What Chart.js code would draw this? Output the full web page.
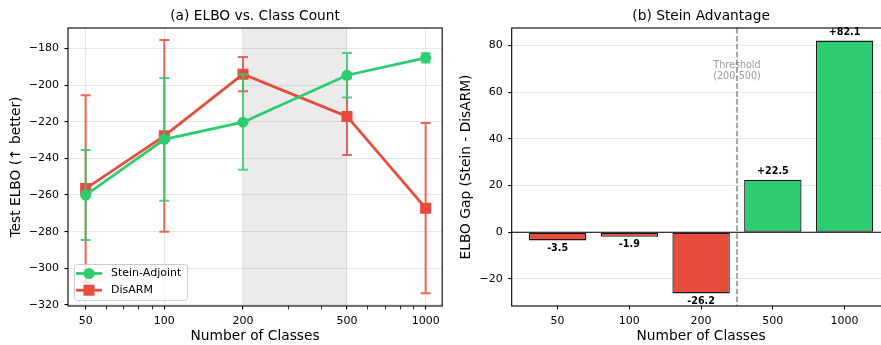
<!DOCTYPE html>
<html>
<head>
<meta charset="utf-8">
<script src="https://cdn.jsdelivr.net/npm/chart.js@4.4.0/dist/chart.umd.min.js"></script>
<style>
  html, body { margin: 0; padding: 0; background: #fff; overflow: hidden; }
  body { width: 881px; height: 345px; position: relative; }
  #wrapA { position: absolute; left: 0; top: 0; width: 450px; height: 345px; }
  #wrapB { position: absolute; left: 450px; top: 0; width: 450px; height: 345px; }
</style>
</head>
<body>
<div id="wrapA"><canvas id="elboChart" width="450" height="345"></canvas></div>
<div id="wrapB"><canvas id="gapChart" width="450" height="345"></canvas></div>
<script>
// values
const classCounts = [50, 100, 200, 500, 1000];
const classLabels = ['50', '100', '200', '500', '1000'];
const steinMean = [-260.0, -229.6, -220.2, -194.6, -185.1];
const steinErr = [24.6, 33.5, 26.0, 12.2, 2.5];
const disarmMean = [-256.5, -227.7, -194.0, -217.1, -267.2];
const disarmErr = [51.0, 52.3, 9.3, 21.0, 46.5];
const elboGap = [-3.5, -1.9, -26.2, 22.5, 82.1];

const elboTicks = [-320, -300, -280, -260, -240, -220, -200, -180];
const gapTicks = [-20, 0, 20, 40, 60, 80];
const minorLogTicks = [60, 70, 80, 90, 300, 400, 600, 700, 800, 900];
const shadeRange = [200, 500];
const thresholdPos = 2.5;
const thresholdText = ['Threshold', '(200-500)'];

const GREEN = '#2ecc71';
const RED = '#e74c3c';
const GRID = 'rgba(176,176,176,0.3)';
const FONT = "'DejaVu Sans', sans-serif";

Chart.defaults.font.family = FONT;
Chart.defaults.color = '#000';

function minus(v) {
  return String(v).replace('-', '\u2212');
}

// keep the plot box where matplotlib put it
function fixX(h) {
  return s => { s.height = h; s.paddingLeft = 0; s.paddingRight = 0; };
}
function fixY(w) {
  return s => { s.width = w; s.paddingTop = 0; s.paddingBottom = 0; };
}

const frame = {
  id: 'frame',
  afterDraw(chart) {
    const { ctx, chartArea: a } = chart;
    ctx.save();
    ctx.strokeStyle = '#000';
    ctx.lineWidth = 1.1;
    ctx.strokeRect(a.left, a.top, a.right - a.left, a.bottom - a.top);
    ctx.restore();
  }
};

const shade = {
  id: 'shade',
  beforeDatasetsDraw(chart) {
    const { ctx, chartArea: a, scales: { x } } = chart;
    const x0 = x.getPixelForValue(shadeRange[0]);
    const x1 = x.getPixelForValue(shadeRange[1]);
    ctx.save();
    ctx.fillStyle = 'rgba(128,128,128,0.16)';
    ctx.fillRect(x0, a.top, x1 - x0, a.bottom - a.top);
    ctx.restore();
  }
};

const errorBars = {
  id: 'errorBars',
  beforeDatasetDraw(chart, args) {
    const ds = chart.data.datasets[args.index];
    if (!ds.errors) return;
    const { ctx, scales: { x, y } } = chart;
    ctx.save();
    ctx.strokeStyle = ds.errorColor;
    ctx.lineWidth = 2;
    ds.data.forEach((p, i) => {
      const px = x.getPixelForValue(p.x);
      const yt = y.getPixelForValue(p.y + ds.errors[i]);
      const yb = y.getPixelForValue(p.y - ds.errors[i]);
      ctx.beginPath();
      ctx.moveTo(px, yt); ctx.lineTo(px, yb);
      ctx.moveTo(px - 5, yt); ctx.lineTo(px + 5, yt);
      ctx.moveTo(px - 5, yb); ctx.lineTo(px + 5, yb);
      ctx.stroke();
    });
    ctx.restore();
  }
};

const legendBox = {
  id: 'legendBox',
  afterDraw(chart) {
    const { ctx, chartArea: a } = chart;
    const bx = a.left + 6, by = a.bottom - 42, bw = 113, bh = 36;
    ctx.save();
    ctx.fillStyle = 'rgba(255,255,255,0.8)';
    ctx.strokeStyle = '#cccccc';
    ctx.lineWidth = 1;
    ctx.beginPath();
    ctx.roundRect(bx + 0.5, by + 0.5, bw, bh, 3);
    ctx.fill();
    ctx.stroke();
    chart.data.datasets.forEach((ds, i) => {
      const yy = by + 9.5 + i * 16.7;
      ctx.strokeStyle = ds.borderColor;
      ctx.lineWidth = 2.75;
      ctx.beginPath();
      ctx.moveTo(bx + 2, yy); ctx.lineTo(bx + 28, yy);
      ctx.stroke();
      ctx.fillStyle = ds.borderColor;
      if (ds.pointStyle === 'rect') {
        ctx.fillRect(bx + 15 - 5.5, yy - 5.5, 11, 11);
      } else {
        ctx.beginPath();
        ctx.arc(bx + 15, yy, 5.5, 0, Math.PI * 2);
        ctx.fill();
      }
      ctx.fillStyle = '#000';
      ctx.font = '11px ' + FONT;
      ctx.textBaseline = 'middle';
      ctx.fillText(ds.label, bx + 37, yy);
    });
    ctx.restore();
  }
};

new Chart(document.getElementById('elboChart'), {
  type: 'line',
  data: {
    datasets: [
      {
        label: 'Stein-Adjoint',
        data: classCounts.map((c, i) => ({ x: c, y: steinMean[i] })),
        errors: steinErr,
        errorColor: 'rgba(46,204,113,0.85)',
        borderColor: GREEN,
        backgroundColor: GREEN,
        borderWidth: 2.75,
        pointStyle: 'circle',
        pointRadius: 5.5,
        pointBorderWidth: 0,
        tension: 0
      },
      {
        label: 'DisARM',
        data: classCounts.map((c, i) => ({ x: c, y: disarmMean[i] })),
        errors: disarmErr,
        errorColor: 'rgba(231,76,60,0.85)',
        borderColor: RED,
        backgroundColor: RED,
        borderWidth: 2.75,
        pointStyle: 'rect',
        pointRadius: 7.8,
        pointBorderWidth: 0,
        tension: 0
      }
    ]
  },
  options: {
    responsive: false,
    animation: false,
    layout: { padding: { left: 0, right: 3, top: 0, bottom: 0 } },
    plugins: {
      legend: { display: false },
      tooltip: { enabled: false },
      title: {
        display: true,
        fullSize: false,
        text: '(a) ELBO vs. Class Count',
        font: { size: 13.75, weight: 'normal' },
        color: '#000',
        padding: { top: 7.75, bottom: 3.75 }
      }
    },
    scales: {
      x: {
        type: 'logarithmic',
        min: 42.8,
        max: 1157,
        afterBuildTicks: s => {
          s.ticks = [...classCounts, ...minorLogTicks].sort((a, b) => a - b).map(v => ({ value: v }));
        },
        afterFit: fixX(39),
        ticks: {
          autoSkip: false,
          maxRotation: 0,
          padding: 5,
          font: { size: 11 },
          callback: v => classCounts.includes(v) ? String(v) : ''
        },
        grid: {
          color: c => (c.tick && classCounts.includes(c.tick.value)) ? GRID : 'rgba(0,0,0,0)',
          lineWidth: 1.1,
          tickColor: '#000',
          tickLength: 3.5,
          tickWidth: c => (c.tick && classCounts.includes(c.tick.value)) ? 1.1 : 0.8
        },
        border: { display: false },
        title: {
          display: true,
          text: 'Number of Classes',
          font: { size: 13.75 },
          padding: { top: 0, bottom: 0 }
        }
      },
      y: {
        min: -320.6,
        max: -168.8,
        afterBuildTicks: s => { s.ticks = elboTicks.map(v => ({ value: v })); },
        afterFit: fixY(68),
        ticks: { padding: 5.5, font: { size: 11 }, callback: v => minus(v) },
        grid: { color: GRID, lineWidth: 1.1, tickColor: '#000', tickLength: 3.5 },
        border: { display: false },
        title: {
          display: true,
          text: 'Test ELBO (\u2191 better)',
          font: { size: 13.75 },
          padding: { top: 7.75, bottom: 0 }
        }
      }
    }
  },
  plugins: [shade, errorBars, frame, legendBox]
});

const gapExtras = {
  id: 'gapExtras',
  afterDatasetsDraw(chart) {
    const { ctx, chartArea: a, scales: { x, y } } = chart;
    const y0 = y.getPixelForValue(0);
    const tx = x.getPixelForValue(thresholdPos);
    ctx.save();
    ctx.fillStyle = 'rgba(128,128,128,0.8)';
    ctx.font = '9.6px ' + FONT;
    ctx.textAlign = 'center';
    ctx.textBaseline = 'middle';
    const ty = y.getPixelForValue(71.5);
    thresholdText.forEach((t, i) => ctx.fillText(t, tx, ty + i * 10.9));
    ctx.strokeStyle = '#000';
    ctx.lineWidth = 1.1;
    ctx.beginPath();
    ctx.moveTo(a.left, y0); ctx.lineTo(a.right, y0);
    ctx.stroke();
    ctx.strokeStyle = 'rgba(128,128,128,0.7)';
    ctx.lineWidth = 2;
    ctx.setLineDash([5.5, 2.4]);
    ctx.beginPath();
    ctx.moveTo(tx, a.top); ctx.lineTo(tx, a.bottom);
    ctx.stroke();
    ctx.restore();
  }
};

const barLabels = {
  id: 'barLabels',
  afterDraw(chart) {
    const { ctx, scales: { x, y } } = chart;
    ctx.save();
    ctx.font = 'bold 9.6px ' + FONT;
    ctx.fillStyle = '#000';
    ctx.textAlign = 'center';
    ctx.textBaseline = 'middle';
    elboGap.forEach((v, i) => {
      const px = x.getPixelForValue(i);
      const py = y.getPixelForValue(v);
      const txt = (v > 0 ? '+' : '') + v.toFixed(1);
      ctx.fillText(txt, px, v >= 0 ? py - 8.5 : py + 8);
    });
    ctx.restore();
  }
};

new Chart(document.getElementById('gapChart'), {
  type: 'bar',
  data: {
    datasets: [{
      label: 'ELBO Gap',
      data: elboGap.map((v, i) => ({ x: i, y: v })),
      backgroundColor: elboGap.map(v => v < 0 ? RED : GREEN),
      borderColor: '#1a1a1a',
      borderWidth: 1.3,
      borderSkipped: false,
      categoryPercentage: 0.8,
      barPercentage: 1
    }]
  },
  options: {
    responsive: false,
    animation: false,
    layout: { padding: { left: 0, right: 9.5, top: 0, bottom: 0 } },
    plugins: {
      legend: { display: false },
      tooltip: { enabled: false },
      title: {
        display: true,
        fullSize: false,
        text: '(b) Stein Advantage',
        font: { size: 13.75, weight: 'normal' },
        color: '#000',
        padding: { top: 7.75, bottom: 3.75 }
      }
    },
    scales: {
      x: {
        type: 'linear',
        min: -0.64,
        max: 4.64,
        offset: false,
        afterBuildTicks: s => { s.ticks = classLabels.map((_, i) => ({ value: i })); },
        afterFit: fixX(39),
        ticks: {
          autoSkip: false,
          maxRotation: 0,
          padding: 5,
          font: { size: 11 },
          callback: v => classLabels[v]
        },
        grid: { drawOnChartArea: false, offset: false, tickColor: '#000', tickLength: 3.5, tickWidth: 1.1 },
        border: { display: false },
        title: {
          display: true,
          text: 'Number of Classes',
          font: { size: 13.75 },
          padding: { top: 0, bottom: 0 }
        }
      },
      y: {
        min: -31.6,
        max: 87.5,
        afterBuildTicks: s => { s.ticks = gapTicks.map(v => ({ value: v })); },
        afterFit: fixY(61.7),
        ticks: { padding: 5.5, font: { size: 11 }, callback: v => minus(v) },
        grid: { color: GRID, lineWidth: 1.1, tickColor: '#000', tickLength: 3.5 },
        border: { display: false },
        title: {
          display: true,
          text: 'ELBO Gap (Stein - DisARM)',
          font: { size: 13.75 },
          padding: { top: 8.45, bottom: 0 }
        }
      }
    }
  },
  plugins: [gapExtras, frame, barLabels]
});
</script>
</body>
</html>
